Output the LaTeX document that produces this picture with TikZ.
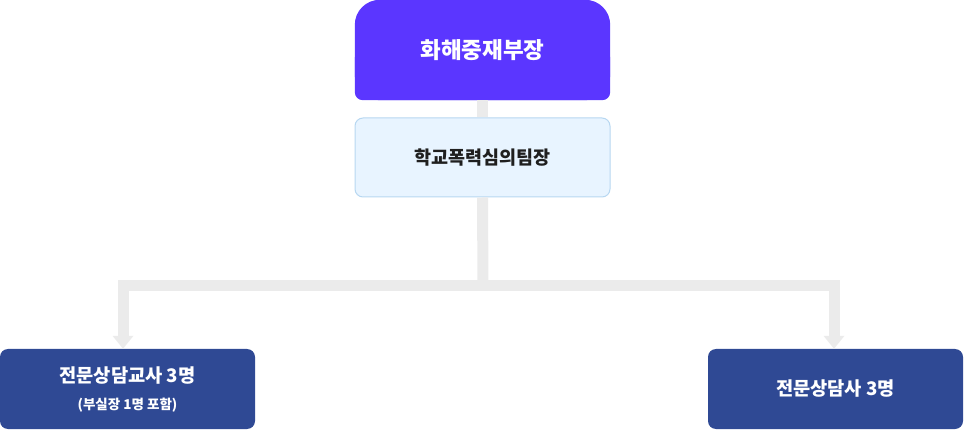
\documentclass[tikz,border=0pt]{standalone}
\usepackage{fontspec}
\setmainfont{Noto Sans CJK KR}
\usetikzlibrary{arrows.meta,backgrounds}
\definecolor{roxo}{HTML}{5B36FF}
\definecolor{azulclaro}{HTML}{E8F4FF}
\definecolor{bordaazul}{HTML}{B7D7F1}
\definecolor{azulescuro}{HTML}{2F4994}
\definecolor{cinza}{HTML}{EBEBEB}

\begin{document}
\begin{tikzpicture}[x=1pt, y=-1pt,
        caixa/.style={minimum width=255pt, minimum height=80pt, inner sep=0pt, rounded corners=8pt, align=center},
        ligacao/.style={draw=cinza, line width=11pt, line join=miter},
        seta/.style={-{Triangle[width=21pt, length=13pt, line width=0pt]}}]
    \useasboundingbox (0,0) rectangle (964,430);
    % caixa do topo e caixa do meio
    \node[caixa, minimum height=100pt, text=white, font=\bfseries\fontsize{22.5}{26}\selectfont] (chefe) at (482.5,50) {화해중재부장};
    \node[caixa, minimum height=79pt, fill=azulclaro, draw=bordaazul, line width=1pt, text=black!88, font=\bfseries\fontsize{18.5}{22}\selectfont] (equipe) at (482.5,157.5) {학교폭력심의팀장};
    % caixas de baixo
    \node[caixa, fill=azulescuro, text=white, font=\bfseries\fontsize{18.7}{27}\selectfont] (docentes) at (127.5,389) {전문상담교사 3명\\{\fontsize{13.5}{27}\selectfont (부실장 1명 포함)}};
    \node[caixa, fill=azulescuro, text=white, font=\bfseries\fontsize{18.7}{22}\selectfont] (conselheiros) at (835.5,389) {전문상담사 3명};
    % fundo da caixa do topo: cantos de cima maiores
    \begin{scope}[on background layer]
        \fill[roxo, rounded corners=25pt] (chefe.north west) rectangle (chefe.south east);
        \fill[roxo, rounded corners=8pt] (chefe.west) rectangle (chefe.south east);
    \end{scope}
    % ligacoes
    \coordinate (juncao) at (483,285.5);
    \draw[ligacao] (chefe.south) -- (equipe.north);
    \draw[ligacao] (equipe.south) -- (juncao);
    \draw[ligacao, seta] (juncao) -| ([xshift=-4.5pt]docentes.north);
    \draw[ligacao, seta] (juncao) -| ([xshift=-1.5pt]conselheiros.north);
\end{tikzpicture}
\end{document}
